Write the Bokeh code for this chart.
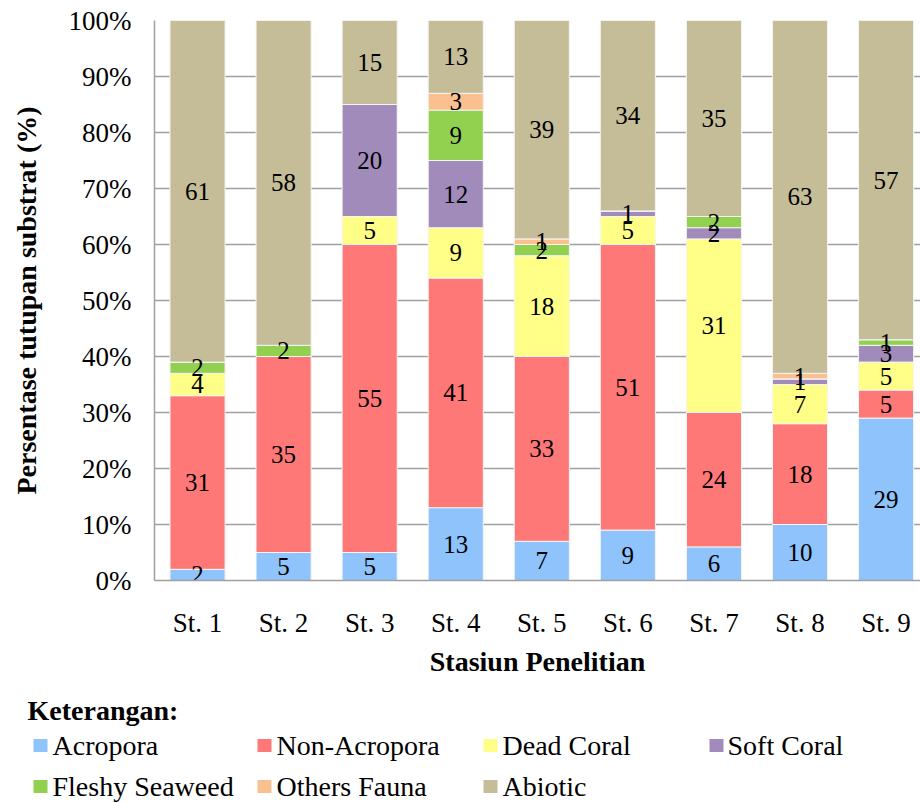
from bokeh.plotting import figure
from bokeh.models import Range1d, FixedTicker, PrintfTickFormatter, ColumnDataSource
from bokeh.layouts import column
from bokeh.core.properties import value
from bokeh.embed import file_html
from bokeh.resources import INLINE

stations = ["St. 1", "St. 2", "St. 3", "St. 4", "St. 5", "St. 6", "St. 7", "St. 8", "St. 9"]
series = ["Acropora", "Non-Acropora", "Dead Coral", "Soft Coral",
          "Fleshy Seaweed", "Others Fauna", "Abiotic"]
colors = ["#8EC3FC", "#FF7878", "#FFFF88", "#A08BBA", "#92D050", "#FAC090", "#C4BD97"]

acropora = [2, 5, 5, 13, 7, 9, 6, 10, 29]
non_acropora = [31, 35, 55, 41, 33, 51, 24, 18, 5]
dead_coral = [4, 0, 5, 9, 18, 5, 31, 7, 5]
soft_coral = [0, 0, 20, 12, 0, 1, 2, 1, 3]
fleshy_seaweed = [2, 2, 0, 9, 2, 0, 2, 0, 1]
others_fauna = [0, 0, 0, 3, 1, 0, 0, 1, 0]
abiotic = [61, 58, 15, 13, 39, 34, 35, 63, 57]

y_ticks = [0, 10, 20, 30, 40, 50, 60, 70, 80, 90, 100]

values_list = [acropora, non_acropora, dead_coral, soft_coral,
               fleshy_seaweed, others_fauna, abiotic]

FONT = "'Liberation Serif', 'Times New Roman', serif"
GRID = "#a0a0a0"

xs = list(range(1, len(stations) + 1))
data = {"x": xs}
for name, vals in zip(series, values_list):
    data[name] = vals
source = ColumnDataSource(data)

p = figure(width=920, height=690,
           x_range=Range1d(0.5, 9.4), y_range=Range1d(0, 100),
           output_backend="svg", toolbar_location=None,
           min_border_left=154, min_border_right=0,
           min_border_top=20, min_border_bottom=110)
p.frame_align = False
p.outline_line_color = None
p.background_fill_color = "white"

p.vbar_stack(series, x="x", width=0.64, source=source, color=colors,
             line_color="#f4f4f4", line_width=1)

# data labels
lx, ly, lt = [], [], []
bottoms = [0] * len(stations)
for vals in values_list:
    for i, v in enumerate(vals):
        if v > 0:
            lx.append(xs[i])
            ly.append(bottoms[i] + v / 2)
            lt.append(str(v))
        bottoms[i] += v
p.text(x=lx, y=ly, text=lt, text_font=value(FONT), text_font_size="25px",
       text_align="center", text_baseline="middle", text_color="black")

# axes
p.xaxis.ticker = FixedTicker(ticks=xs)
p.xaxis.major_label_overrides = {x: s for x, s in zip(xs, stations)}
p.yaxis.ticker = FixedTicker(ticks=y_ticks)
p.yaxis.formatter = PrintfTickFormatter(format="%d%%")

for ax in (p.xaxis, p.yaxis):
    ax.major_tick_line_color = None
    ax.minor_tick_line_color = None
    ax.axis_line_color = GRID
    ax.axis_line_width = 1.5
    ax.major_label_text_font = FONT
    ax.major_label_text_font_size = "27px"
    ax.major_label_text_color = "black"
    ax.axis_label_text_font = FONT
    ax.axis_label_text_font_size = "28px"
    ax.axis_label_text_font_style = "bold"
    ax.axis_label_text_color = "black"

p.xaxis.axis_label = "Stasiun Penelitian"
p.yaxis.axis_label = "Persentase tutupan substrat (%)"
p.xaxis.major_label_standoff = 21
p.yaxis.major_label_standoff = 17
p.xaxis.axis_label_standoff = 5
p.yaxis.axis_label_standoff = 24

p.xgrid.grid_line_color = None
p.ygrid.ticker = FixedTicker(ticks=y_ticks)
p.ygrid.grid_line_color = GRID
p.ygrid.grid_line_width = 1.5

# legend panel
lg = figure(width=920, height=112, x_range=Range1d(0, 920), y_range=Range1d(112, 0),
            output_backend="svg", toolbar_location=None,
            x_axis_type=None, y_axis_type=None,
            min_border_left=0, min_border_right=0, min_border_top=0, min_border_bottom=0)
lg.frame_align = False
lg.outline_line_color = None
lg.xgrid.grid_line_color = None
lg.ygrid.grid_line_color = None

lg.text(x=[27], y=[20], text=["Keterangan:"], text_font=value(FONT),
        text_font_size="28px", text_font_style="bold", text_baseline="middle",
        text_color="black")

col_sq = [40, 264, 490, 716]
col_tx = [52, 276, 502, 727]
row_y = [55, 96]
sq_x, sq_y, tx_x, tx_y = [], [], [], []
for k in range(len(series)):
    r, c = divmod(k, 4)
    sq_x.append(col_sq[c]); sq_y.append(row_y[r])
    tx_x.append(col_tx[c]); tx_y.append(row_y[r])
lg.rect(x=sq_x, y=sq_y, width=14, height=13, width_units="screen",
        height_units="screen", color=colors, line_color=None)
lg.text(x=tx_x, y=tx_y, text=series, text_font=value(FONT), text_font_size="28px",
        text_baseline="middle", text_color="black")

layout = column(p, lg, spacing=0)
open("out.html", "w").write(file_html(layout, INLINE))
